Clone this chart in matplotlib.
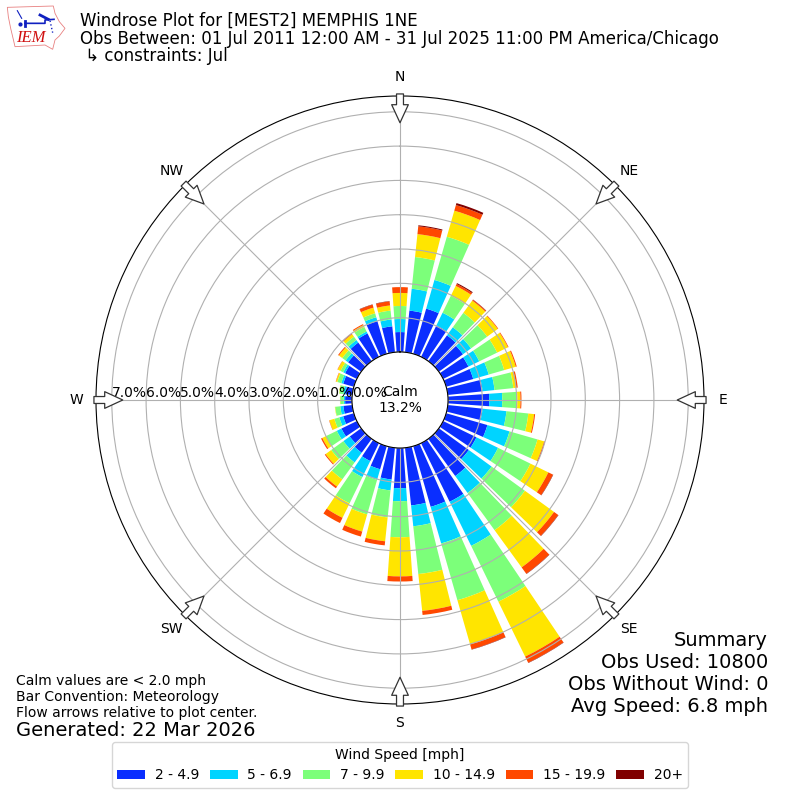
import numpy as np
import matplotlib
matplotlib.use("Agg")
import matplotlib.pyplot as plt
from matplotlib.patches import Polygon

directions = list(range(0, 360, 10))
speed_labels = ["2 - 4.9", "5 - 6.9", "7 - 9.9", "10 - 14.9", "15 - 19.9", "20+"]
colors = ["#0a2eff", "#00d4ff", "#7cff7a", "#ffe500", "#ff4800", "#800000"]

s2_5 = [.58,1.22,1.37,1.02,.93,.87,.82,.82,1.02,1.20,1.02,1.25,1.08,1.08,1.34,1.90,1.84,1.69,
        1.17,.93,.70,.58,.50,.41,.50,.32,.26,.20,.20,.32,.38,.47,.67,.76,.99,.76]
s5_7 = [.38,.64,.87,.41,.29,.29,.35,.47,.35,.38,.70,.67,.70,.82,.61,1.43,1.11,.61,
        .38,.32,.32,.52,.35,.23,.15,.12,.09,.04,.06,.06,.06,.09,.09,.06,.12,.20]
s7_10 = [.38,.93,1.31,.55,.52,.58,.58,.47,.55,.44,.64,.85,1.05,1.20,1.34,1.81,1.72,1.40,
         1.05,.79,1.05,.85,.61,.44,.35,.15,.15,.10,.12,.12,.09,.12,.12,.15,.12,.26]
s10_15 = [.38,.67,.79,.32,.44,.38,.35,.35,.09,.09,.17,.20,.58,1.05,1.34,1.78,1.34,1.08,
          1.14,.70,.52,.47,.26,.20,.12,.15,.01,.01,.01,.04,.09,.12,.09,.06,.17,.15]
s15_20 = [.17,.23,.17,.06,.03,.02,.02,.03,.04,.03,.03,.03,.15,.15,.23,.20,.15,.12,
          .15,.12,.15,.17,.06,.03,.04,.01,0,0,0,.01,.01,.03,.03,.03,.09,.12]
s20p = [0,.03,.06,.03,.01,0,0,0,0,0,0,0,.01,.01,.01,.01,.01,0,
        0,0,0,0,0,0,0,0,0,0,0,0,0,0,0,0,.01,.01]
series = [s2_5, s5_7, s7_10, s10_15, s15_20, s20p]
rticks = [0, 1, 2, 3, 4, 5, 6, 7]
compass = ["N", "NE", "E", "SE", "S", "SW", "W", "NW"]
compass_deg = [0, 45, 90, 135, 180, 225, 270, 315]
calm = 13.2

fig = plt.figure(figsize=(8, 8), dpi=100)
ax = fig.add_axes([96/800, 96/800, 608/800, 608/800], projection="polar")
ax.set_theta_zero_location("N")
ax.set_theta_direction(-1)

theta = np.deg2rad(directions)
base = np.zeros(len(directions))
handles = []
for vals, col, lab in zip(series, colors, speed_labels):
    b = ax.bar(theta, vals, width=np.deg2rad(8), bottom=base, color=col, linewidth=0, label=lab)
    handles.append(b)
    base = base + np.array(vals)

ax.set_rorigin(-1.4)
ax.set_rlim(0, 7.46)
ax.set_rticks(rticks)
ax.set_yticklabels([f"{v:.1f}%" for v in rticks], fontsize=10, ha="left", va="bottom")
ax.set_rlabel_position(270)
ax.tick_params(axis="y", pad=0)
ax.set_xticks(np.deg2rad(compass_deg))
ax.set_xticklabels(compass, fontsize=10)
ax.tick_params(axis="x", pad=3.5)
ax.grid(True, color="#b0b0b0", linewidth=0.8)

for d in compass_deg:
    ax.annotate("", xy=(np.deg2rad(d), 6.68), xytext=(np.deg2rad(d), 7.52), annotation_clip=False,
                arrowprops=dict(facecolor="white", edgecolor="#333333", width=5, headwidth=12,
                                headlength=13, shrink=0, linewidth=0.9), zorder=6)

ax.text(0.5, 0.5, f"Calm\n{calm}%", transform=ax.transAxes, ha="center", va="center",
        fontsize=10, zorder=7)

fig.text(80/800, 1-12/800, "Windrose Plot for [MEST2] MEMPHIS 1NE\n"
         "Obs Between: 01 Jul 2011 12:00 AM - 31 Jul 2025 11:00 PM America/Chicago\n"
         " ↳ constraints: Jul", fontsize=12, va="top", ha="left", linespacing=0.97)

fig.text(768/800, 1-716/800, "Summary\nObs Used: 10800\nObs Without Wind: 0\nAvg Speed: 6.8 mph",
         fontsize=14, ha="right", va="bottom", linespacing=1.2)
fig.text(16/800, 1-720/800, "Calm values are < 2.0 mph\nBar Convention: Meteorology\nFlow arrows relative to plot center.",
         fontsize=10, ha="left", va="bottom", linespacing=1.2)
fig.text(16/800, 1-740/800, "Generated: 22 Mar 2026", fontsize=14, ha="left", va="bottom")

fig.legend(handles=handles, labels=speed_labels, title="Wind Speed [mph]", ncol=6, fontsize=10,
           title_fontsize=10, loc="center", bbox_to_anchor=(0.5, 1-765/800),
           columnspacing=0.77, handletextpad=0.7)

# IEM logo
logo = fig.add_axes([0, 1-80/800, 240/800, 80/800])
logo.set_xlim(0, 720)
logo.set_ylim(240, 0)
logo.axis("off")
logo.add_patch(Polygon([(22,22),(160,18),(165,40),(178,65),(195,85),(178,108),(165,120),(158,148),
                        (135,135),(45,140),(38,110),(32,85),(25,50)], closed=True, fill=False,
                       edgecolor="#e88080", linewidth=0.6))
logo.plot([75,135,135,162],[70,70,60,58], color="#1020c0", lw=1.2)
logo.plot([75,75],[62,78], color="#1020c0", lw=2)
logo.plot([52,65],[32,55], color="#1020c0", lw=0.8)
logo.plot([120,145],[45,58], color="#1020c0", lw=2)
logo.plot([150,158],[62,98], color="#1020c0", lw=1, ls=":")
logo.plot([60],[72], marker="o", ms=2, color="#1020c0")
logo.text(92, 115, "IEM", color="#d01010", family="Liberation Serif", style="italic",
          fontsize=12, ha="center", va="center")

fig.savefig("out.png", dpi=100)
